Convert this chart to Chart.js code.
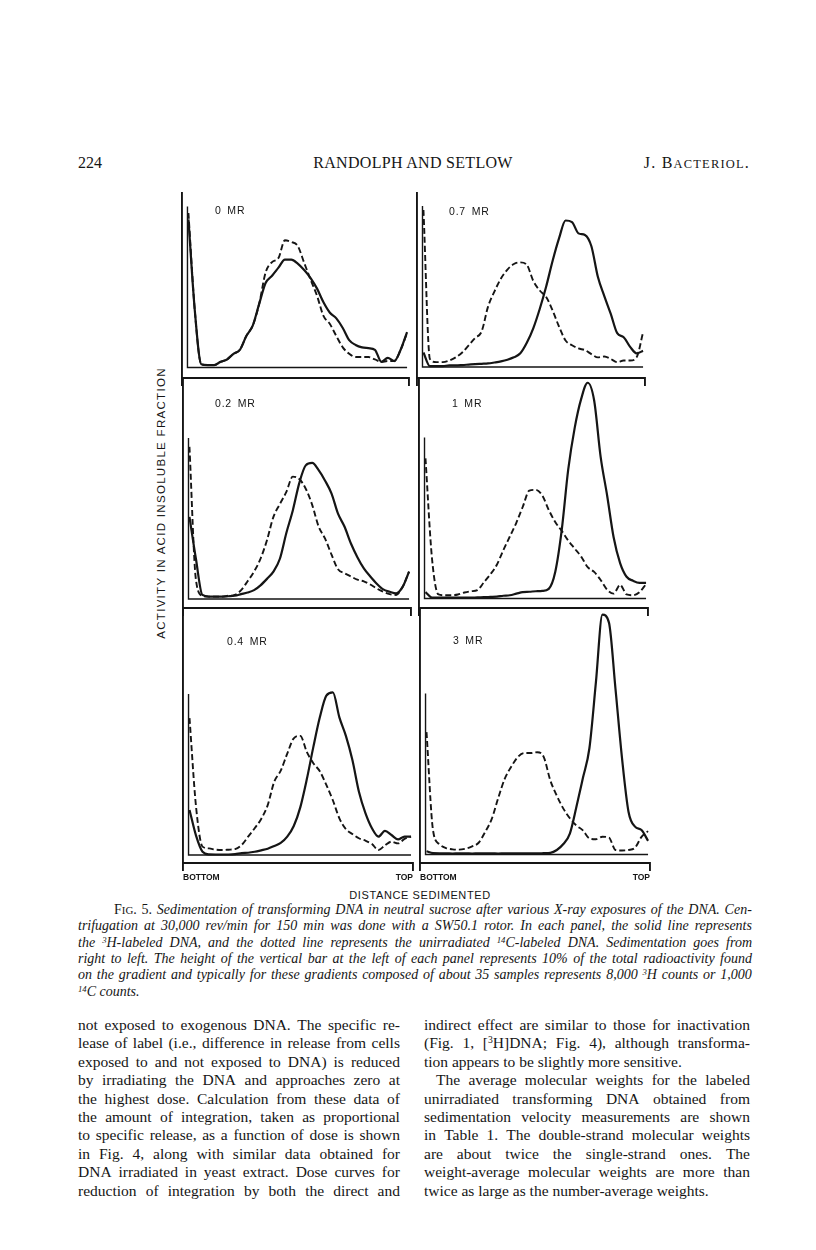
<!DOCTYPE html>
<html>
<head>
<meta charset="utf-8">
<title>Fig. 5 - sedimentation of transforming DNA</title>
<script src="https://cdn.jsdelivr.net/npm/chart.js@4.4.1/dist/chart.umd.min.js"></script>
<style>
  html, body { margin: 0; padding: 0; background: #fff; }
  #page { position: relative; width: 816px; height: 1250px; overflow: hidden; background: #fff;
          color: #151515; font-family: "Liberation Serif", "Times New Roman", serif; }
  #page canvas { position: absolute; }
  .txt { position: absolute; white-space: nowrap; }
  .sans { font-family: "Liberation Sans", Arial, sans-serif; }
  .mr { font-size: 10.5px; line-height: 12px; letter-spacing: 0.8px; word-spacing: 2px; }
  .line { position: absolute; white-space: nowrap; }
  .just { display: flex; justify-content: space-between; }
  sup { font-size: 0.62em; line-height: 0; vertical-align: 0.5em; }
  small { font-size: 0.78em; }
  .cap { font-size: 14px; line-height: 16.3px; font-style: italic; }
  .cap b { font-weight: normal; font-style: normal; }
  .body { font-size: 15.5px; line-height: 18.4px; }
</style>
</head>
<body>
<div id="page">
  <div class="txt" style="left:78px; top:153px; font-size:16px; line-height:20px;">224</div>
  <div class="txt" style="left:263px; top:153px; width:300px; text-align:center; font-size:16px; line-height:20px; letter-spacing:0.3px;">RANDOLPH AND SETLOW</div>
  <div class="txt" style="left:600px; top:153px; width:150px; text-align:right; font-size:16px; line-height:20px; letter-spacing:1.2px;">J. B<small>ACTERIOL</small>.</div>

  <div class="txt sans" style="left:21px; top:496px; width:280px; text-align:center; font-size:11.5px; line-height:14px; letter-spacing:1.3px; transform:rotate(-90deg);">ACTIVITY IN ACID INSOLUBLE FRACTION</div>
  <div class="txt sans" style="left:320px; top:889px; width:200px; text-align:center; font-size:11px; line-height:13px; letter-spacing:0.6px;">DISTANCE SEDIMENTED</div>
</div>
<script>
// fraction number along the gradient, 1 = bottom of the tube
const fractions = [1, 2, 3, 4, 5, 6, 7, 8, 9, 10, 11, 12, 13, 14, 15, 16, 17, 18,
                   19, 20, 21, 22, 23, 24, 25, 26, 27, 28, 29, 30, 31, 32, 33, 34, 35];

// height of the vertical bar = 10% of total radioactivity
const scaleBar = 10;

const panelLabels = ['0 MR', '0.2 MR', '0.4 MR', '0.7 MR', '1 MR', '3 MR'];
const edgeLabels = ['BOTTOM', 'TOP'];

// % of total counts per fraction
// solid = 3H-labeled (irradiated) DNA, dashed = unirradiated 14C-labeled DNA
const solid0 = [9.2, 3.5, 0.2, 0.15, 0.15, 0.35, 0.5, 0.85, 1.1, 1.95, 2.6, 3.95, 5.25, 5.7, 6.2, 6.7, 6.7, 6.45,
                6.05, 5.55, 4.9, 4.05, 3.4, 3.05, 2.45, 1.7, 1.4, 1.25, 1.2, 1.1, 0.35, 0.6, 0.4, 1.1, 2.2];
const dashed0 = [9.6, 3.5, 0.2, 0.15, 0.15, 0.35, 0.5, 0.85, 1.1, 1.95, 2.6, 3.95, 5.9, 6.55, 6.8, 7.9, 7.8, 7.55,
                 6.5, 5.45, 4.45, 3.2, 2.7, 1.95, 1.25, 0.85, 0.65, 0.65, 0.65, 0.5, 0.35, 0.4, 0.4, 1.1, 2.15];

const solid02 = [5.1, 2.5, 0.25, 0.15, 0.15, 0.15, 0.17, 0.2, 0.3, 0.4, 0.55, 0.85, 1.25, 1.7, 2.5, 4.1, 5.5, 7.2,
                 8.3, 8.45, 8.0, 7.35, 6.55, 5.3, 4.5, 3.45, 2.6, 1.9, 1.4, 0.95, 0.6, 0.45, 0.35, 0.75, 1.7];
const dashed02 = [9.45, 1.2, 0.2, 0.15, 0.15, 0.15, 0.2, 0.25, 0.55, 1.1, 1.7, 2.5, 3.65, 5.1, 5.9, 6.65, 7.6, 7.45,
                  6.85, 5.85, 4.5, 3.75, 2.75, 1.85, 1.6, 1.4, 1.2, 1.1, 0.9, 0.65, 0.45, 0.3, 0.25, 0.75, 1.7];

const solid04 = [2.8, 1.2, 0.2, 0.04, 0.03, 0.03, 0.03, 0.05, 0.12, 0.14, 0.2, 0.29, 0.39, 0.56, 0.75, 1.14, 1.8, 2.96,
                 4.7, 6.7, 8.55, 9.9, 10.1, 8.55, 7.4, 5.9, 3.93, 2.6, 1.66, 1.14, 1.5, 1.24, 0.97, 1.14, 1.14];
const dashed04 = [8.5, 3.0, 0.52, 0.41, 0.33, 0.31, 0.33, 0.37, 0.62, 1.14, 1.66, 2.24, 3.1, 4.55, 5.24, 6.3, 7.25, 7.4,
                  6.4, 5.7, 5.2, 4.35, 3.4, 2.28, 1.61, 1.3, 1.04, 0.89, 0.68, 0.31, 0.6, 0.83, 0.72, 1.0, 1.14];

const solid07 = [0.9, 0.05, 0.05, 0.05, 0.1, 0.1, 0.12, 0.15, 0.18, 0.2, 0.22, 0.28, 0.35, 0.45, 0.6, 0.85, 1.5, 2.4,
                 3.6, 5.0, 6.6, 8.0, 9.1, 9.0, 8.3, 8.2, 7.5, 5.6, 4.4, 3.3, 2.1, 1.85, 1.25, 0.85, 1.0];
const dashed07 = [9.75, 0.5, 0.3, 0.3, 0.4, 0.6, 0.9, 1.35, 1.8, 2.2, 3.75, 4.7, 5.5, 6.05, 6.4, 6.5, 6.35, 5.35,
                  4.75, 4.35, 3.5, 2.5, 1.65, 1.35, 1.15, 1.05, 0.8, 0.6, 0.65, 0.5, 0.3, 0.4, 0.4, 0.6, 2.15];

const solid1 = [0.4, 0.06, 0.05, 0.05, 0.05, 0.05, 0.05, 0.05, 0.07, 0.08, 0.1, 0.12, 0.17, 0.2, 0.3, 0.4, 0.42, 0.45,
                0.47, 0.6, 1.65, 4.25, 8.0, 10.6, 12.4, 13.4, 12.3, 8.8, 6.4, 3.8, 2.2, 1.35, 1.1, 0.97, 0.97];
const dashed1 = [8.7, 2.5, 0.25, 0.2, 0.2, 0.25, 0.37, 0.45, 0.52, 1.0, 1.5, 2.1, 3.0, 3.85, 4.7, 5.7, 6.7, 6.75,
                 6.4, 5.5, 4.75, 4.2, 3.6, 3.1, 2.6, 1.95, 1.65, 1.15, 0.55, 0.3, 0.85, 0.25, 0.2, 0.4, 0.9];

const solid3 = [0.2, 0.08, 0.07, 0.07, 0.06, 0.07, 0.07, 0.06, 0.07, 0.07, 0.07, 0.06, 0.07, 0.07, 0.07, 0.07, 0.07, 0.07,
                0.08, 0.1, 0.28, 0.65, 1.3, 2.95, 4.75, 6.6, 10.7, 14.9, 14.4, 10.3, 6.0, 2.66, 1.73, 1.52, 0.85];
const dashed3 = [7.6, 1.5, 0.63, 0.4, 0.32, 0.3, 0.36, 0.5, 0.73, 1.4, 2.2, 3.5, 4.7, 5.45, 6.05, 6.3, 6.3, 6.35,
                 6.05, 4.6, 3.65, 2.85, 2.25, 1.8, 1.5, 1.0, 0.95, 1.1, 1.05, 0.28, 0.25, 0.28, 0.42, 1.1, 1.45];

const panels = [
    { label: panelLabels[0], solid: solid0, dashed: dashed0, bottomRow: false },
    { label: panelLabels[1], solid: solid02, dashed: dashed02, bottomRow: false },
    { label: panelLabels[2], solid: solid04, dashed: dashed04, bottomRow: true },
    { label: panelLabels[3], solid: solid07, dashed: dashed07, bottomRow: false },
    { label: panelLabels[4], solid: solid1, dashed: dashed1, bottomRow: false },
    { label: panelLabels[5], solid: solid3, dashed: dashed3, bottomRow: true }
];

// where each panel sits on the page (px): frame edges, separator line, zero line
const boxes = [
    { left: 182, right: 409, top: 193, sep: 378, base: 367.5, labelX: 215, labelY: 210 },
    { left: 183, right: 411, top: 378, sep: 608, base: 599, labelX: 215, labelY: 403 },
    { left: 183, right: 413, top: 608, sep: 863, base: 855, labelX: 227, labelY: 641 },
    { left: 417, right: 645, top: 193, sep: 378, base: 367, labelX: 449, labelY: 211 },
    { left: 419, right: 648, top: 378, sep: 608, base: 598.5, labelX: 452, labelY: 403 },
    { left: 420, right: 650, top: 608, sep: 863, base: 854.5, labelX: 453, labelY: 640 }
];

const pxPerPercent = 16.1; // the 10% bar is ~161px tall in every panel
const ink = '#151515';
const page = document.getElementById('page');

function toPoints(values) {
    return values.map((v, i) => ({ x: fractions[i], y: v }));
}

function createPanel(panel, box) {
    const pad = 24, padTop = 4, axisH = 26;
    const canvas = document.createElement('canvas');
    canvas.width = box.right - box.left + 2 * pad;
    canvas.height = box.sep - box.top + padTop + axisH;
    canvas.style.left = (box.left - pad) + 'px';
    canvas.style.top = (box.top - padTop) + 'px';
    page.appendChild(canvas);

    // panel label (dose)
    const lab = document.createElement('div');
    lab.className = 'txt sans mr';
    lab.style.left = box.labelX + 'px';
    lab.style.top = (box.labelY - 6) + 'px';
    lab.textContent = panel.label;
    page.appendChild(lab);

    const lastFraction = fractions[fractions.length - 1];
    const barX = fractions[0] - 0.15;

    new Chart(canvas.getContext('2d'), {
        type: 'line',
        data: {
            datasets: [
                {
                    // 3H
                    data: toPoints(panel.solid),
                    borderColor: ink,
                    borderWidth: 2.2,
                    cubicInterpolationMode: 'monotone'
                },
                {
                    // 14C
                    data: toPoints(panel.dashed),
                    borderColor: ink,
                    borderWidth: 1.9,
                    borderDash: [6, 3],
                    cubicInterpolationMode: 'monotone'
                },
                {
                    // 10% bar + zero line
                    data: [{ x: barX, y: scaleBar }, { x: barX, y: 0 }, { x: lastFraction, y: 0 }],
                    borderColor: ink,
                    borderWidth: 1.4,
                    tension: 0
                }
            ]
        },
        options: {
            responsive: false,
            animation: false,
            events: [],
            layout: { padding: { left: pad, right: pad, top: padTop, bottom: 0 } },
            elements: { point: { radius: 0 } },
            plugins: {
                legend: { display: false },
                tooltip: { enabled: false }
            },
            scales: {
                x: {
                    type: 'linear',
                    min: 0,
                    max: 35.3,
                    afterBuildTicks: s => { s.ticks = [{ value: s.min }, { value: s.max }]; },
                    afterFit: s => { s.height = axisH; },
                    grid: { drawOnChartArea: false, drawTicks: true, tickLength: 8, color: ink, lineWidth: 1.9 },
                    border: { display: true, color: ink, width: 1.9 },
                    ticks: {
                        autoSkip: false,
                        maxRotation: 0,
                        align: 'inner',
                        padding: 2,
                        color: ink,
                        font: { family: 'Liberation Sans', weight: 'bold', size: 8.5 },
                        callback: (v, i) => panel.bottomRow ? edgeLabels[i] : ''
                    }
                },
                y: {
                    min: -(box.sep - box.base) / pxPerPercent,
                    max: (box.base - box.top) / pxPerPercent,
                    afterFit: s => { s.width = 0; },
                    grid: { display: false },
                    ticks: { display: false },
                    border: { display: true, color: ink, width: 1.9 }
                }
            }
        }
    });
}

panels.forEach((p, i) => createPanel(p, boxes[i]));

// caption and running text
const captionLines = [
    '<b>F<small>IG</small>.</b> <b>5.</b> Sedimentation of transforming DNA in neutral sucrose after various X-ray exposures of the DNA. Cen-',
    'trifugation at 30,000 rev/min for 150 min was done with a SW50.1 rotor. In each panel, the solid line represents',
    'the <sup>3</sup>H-labeled DNA, and the dotted line represents the unirradiated <sup>14</sup>C-labeled DNA. Sedimentation goes from',
    'right to left. The height of the vertical bar at the left of each panel represents 10% of the total radioactivity found',
    'on the gradient and typically for these gradients composed of about 35 samples represents 8,000 <sup>3</sup>H counts or 1,000',
    '<sup>14</sup>C counts.'
];
const leftColumn = [
    'not exposed to exogenous DNA. The specific re-',
    'lease of label (i.e., difference in release from cells',
    'exposed to and not exposed to DNA) is reduced',
    'by irradiating the DNA and approaches zero at',
    'the highest dose. Calculation from these data of',
    'the amount of integration, taken as proportional',
    'to specific release, as a function of dose is shown',
    'in Fig. 4, along with similar data obtained for',
    'DNA irradiated in yeast extract. Dose curves for',
    'reduction of integration by both the direct and'
];
const rightColumn = [
    'indirect effect are similar to those for inactivation',
    '(Fig. 1, [<sup>3</sup>H]DNA; Fig. 4), although transforma-',
    'tion appears to be slightly more sensitive.',
    'The average molecular weights for the labeled',
    'unirradiated transforming DNA obtained from',
    'sedimentation velocity measurements are shown',
    'in Table 1. The double-strand molecular weights',
    'are about twice the single-strand ones. The',
    'weight-average molecular weights are more than',
    'twice as large as the number-average weights.'
];

function setLines(lines, left, width, top, step, cls, plain, indents) {
    lines.forEach((html, i) => {
        const div = document.createElement('div');
        const ind = indents[i] || 0;
        div.className = 'line ' + cls;
        div.style.left = (left + ind) + 'px';
        div.style.top = (top + i * step) + 'px';
        div.style.width = (width - ind) + 'px';
        if (plain.includes(i)) {
            div.innerHTML = html;
        } else {
            div.classList.add('just');
            div.innerHTML = html.split(' ').map(w => '<span>' + w + '</span>').join('');
        }
        page.appendChild(div);
    });
}

setLines(captionLines, 78, 674, 902, 16.3, 'cap', [5], { 0: 36 });
setLines(leftColumn, 78, 322, 1016, 18.4, 'body', [], {});
setLines(rightColumn, 424, 326, 1016, 18.4, 'body', [2, 9], { 3: 12 });
</script>
</body>
</html>
